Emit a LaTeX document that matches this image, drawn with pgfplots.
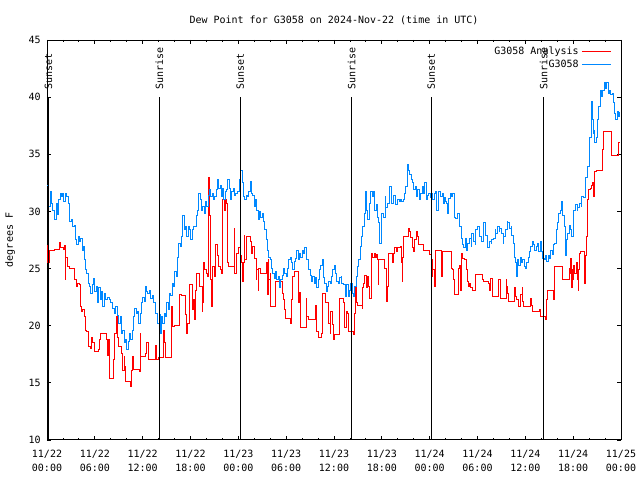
\documentclass[border=0pt]{standalone}
\usepackage{fontspec}
\setmainfont{DejaVu Sans Mono}
\usepackage{pgfplots}
\pgfplotsset{compat=1.18}
\definecolor{gred}{RGB}{255,0,0}
\definecolor{gblue}{RGB}{0,136,255}
\begin{document}
\fontsize{7.2}{8.6}\selectfont
\begin{tikzpicture}
\begin{axis}[
  scale only axis, width=413.3pt, height=288pt,
  xmin=0, xmax=72, ymin=10, ymax=45,
  xtick={0,6,...,72},
  xticklabels={{11/22\\[1.5pt]00:00},{11/22\\[1.5pt]06:00},{11/22\\[1.5pt]12:00},{11/22\\[1.5pt]18:00},{11/23\\[1.5pt]00:00},{11/23\\[1.5pt]06:00},{11/23\\[1.5pt]12:00},{11/23\\[1.5pt]18:00},{11/24\\[1.5pt]00:00},{11/24\\[1.5pt]06:00},{11/24\\[1.5pt]12:00},{11/24\\[1.5pt]18:00},{11/25\\[1.5pt]00:00}},
  minor x tick num=2,
  ytick={10,15,...,45},
  tick align=inside,
  major tick length=3pt, minor tick length=1.6pt,
  tick style={black, line width=0.6pt},
  axis line style={black, line width=0.7pt},
  /pgf/number format/assume math mode=true,
  every tick label/.append style={font=\fontsize{7.2}{8.6}\selectfont},
  xticklabel style={align=center, yshift=-4.5pt},
  yticklabel style={xshift=-2pt},
  title={Dew Point for G3058 on 2024-Nov-22 (time in UTC)},
  title style={at={(axis description cs:0.5,1)}, anchor=base, yshift=6.2pt, font=\fontsize{7.2}{8.6}\selectfont},
  ylabel={degrees F},
  ylabel style={at={(axis description cs:-0.064,0.5)}, anchor=center, font=\fontsize{7.2}{8.6}\selectfont},
  legend style={draw=none, fill=none, at={(rel axis cs:0.984,0.99)}, anchor=north east, inner sep=0pt, row sep=-1.5pt, font=\fontsize{7.2}{8.6}\selectfont},
  legend cell align=right,
  legend plot pos=right,
  legend image code/.code={\draw[#1] plot coordinates {(0pt,0pt) (21pt,0pt)};},
  clip mode=individual,
]
\addplot[gred, line width=0.7pt, const plot] coordinates {
(0.0,27.0) (0.1,25.5) (0.3,26.6) (0.95,26.7) (1.55,27.3) (1.72,26.8) (2.05,26.7) (2.2,27.0) (2.3,24.0) (2.38,26.0)
(2.55,25.2) (2.76,25.0) (3.47,24.0) (3.64,23.4) (3.8,23.7) (4.06,23.6) (4.14,21.7) (4.31,21.2) (4.48,21.4) (4.64,20.8)
(4.81,19.6) (4.98,19.5) (5.15,18.2) (5.4,18.0) (5.56,19.0) (5.73,18.5) (5.9,17.7) (6.4,17.9) (6.53,18.8) (6.74,19.3)
(7.5,18.8) (7.57,17.4) (7.74,18.8) (7.9,15.4) (8.4,17.0) (8.5,19.3) (8.66,20.8) (8.83,19.0) (9.0,18.2) (9.33,17.6)
(9.5,16.1) (9.67,17.3) (9.75,16.4) (9.87,15.1) (10.5,14.7) (10.58,16.1) (10.75,17.3) (10.84,16.2) (11.6,16.0) (11.67,19.3)
(11.76,17.3) (12.4,17.6) (12.5,18.5) (12.67,17.0) (13.63,18.3) (13.76,17.0) (13.93,17.2) (14.6,19.6) (14.76,18.5) (14.85,17.2)
(15.64,21.7) (15.77,19.9) (15.94,20.0) (16.6,22.7) (16.86,22.6) (17.4,21.0) (17.53,19.3) (17.61,20.2) (17.86,23.6) (18.2,22.8)
(18.28,21.4) (18.36,22.3) (18.53,20.5) (18.66,23.1) (18.78,24.6) (19.16,23.4) (19.45,21.2) (19.53,22.0) (19.62,25.5) (19.78,24.9)
(19.95,24.6) (20.12,24.3) (20.29,33.0) (20.37,29.6) (20.45,25.2) (20.54,24.0) (20.62,21.7) (20.79,25.2) (20.96,24.3) (21.12,27.1)
(21.37,26.1) (21.54,25.2) (21.71,24.9) (21.88,24.6) (22.04,31.0) (22.21,30.1) (22.38,31.0) (22.55,30.7) (22.63,25.5) (22.8,25.2)
(23.47,28.5) (23.55,24.6) (23.72,26.3) (24.05,26.8) (24.22,26.1) (24.39,25.5) (24.55,23.9) (24.64,25.5) (24.72,27.9) (24.8,25.8)
(24.97,27.8) (25.56,27.4) (25.64,26.3) (25.81,26.9) (26.06,25.9) (26.23,24.0) (26.31,24.9) (26.48,23.1) (26.56,25.0) (26.73,24.6)
(27.57,25.5) (27.65,22.7) (27.73,25.8) (27.82,24.0) (27.98,24.6) (28.07,21.7) (28.65,23.9) (29.57,22.8) (29.66,22.3) (29.82,21.4)
(29.91,20.6) (30.58,20.2) (30.7,22.3) (30.83,24.3) (31.0,24.7) (31.5,23.0) (31.58,22.0) (31.67,22.9) (31.83,19.8) (32.5,22.4)
(32.59,20.8) (32.75,20.5) (33.67,21.8) (33.76,20.8) (33.84,19.5) (34.0,19.0) (34.43,19.3) (34.6,22.8) (34.93,22.0) (35.26,21.1)
(35.35,20.2) (35.51,19.3) (35.6,21.2) (35.77,20.1) (35.93,18.8) (36.02,19.2) (36.69,22.4) (37.19,22.0) (37.27,21.4) (37.36,19.8)
(37.52,21.2) (37.68,21.1) (37.85,19.5) (38.43,19.2) (38.52,21.1) (38.68,23.4) (38.77,22.0) (38.93,21.8) (39.52,21.5) (39.6,23.3)
(39.69,23.7) (39.85,24.4) (40.02,23.3) (40.19,24.3) (40.36,23.4) (40.44,22.4) (40.69,26.3) (40.86,26.0) (41.03,26.3) (41.19,26.0)
(41.36,26.2) (41.44,25.8) (41.53,23.6) (41.61,25.8) (42.28,25.0) (42.62,22.1) (42.7,23.4) (42.78,26.3) (43.29,25.5) (43.45,26.3)
(43.62,26.8) (43.79,26.5) (43.95,26.8) (44.29,26.9) (44.46,25.5) (44.54,23.9) (44.62,26.0) (44.71,27.8) (45.29,28.5) (45.46,28.2)
(45.63,27.7) (45.8,26.8) (45.96,26.5) (46.13,27.5) (46.3,28.2) (46.46,27.8) (46.63,27.1) (47.22,26.6) (47.97,26.2) (48.22,24.3)
(48.3,25.8) (48.39,24.9) (48.56,23.4) (48.72,26.6) (49.48,24.3) (49.56,26.5) (50.73,25.0) (50.9,24.9) (50.98,24.0) (51.15,22.7)
(51.57,24.0) (51.65,25.0) (51.73,25.3) (51.82,23.1) (51.99,26.3) (52.15,25.9) (52.32,25.75) (52.57,24.9) (52.74,23.9) (52.82,23.4)
(52.99,23.7) (53.16,23.3) (53.32,23.1) (53.74,24.5) (54.58,24.0) (54.75,23.85) (55.42,23.7) (55.5,23.1) (55.58,24.15) (55.83,22.55)
(56.59,24.0) (56.84,23.4) (56.92,22.4) (57.59,24.0) (57.68,23.4) (57.76,22.8) (57.84,22.1) (58.68,23.3) (58.76,22.55) (58.85,22.3)
(59.18,21.7) (59.35,22.7) (59.6,23.3) (59.68,22.1) (59.77,21.7) (60.69,22.4) (60.77,21.8) (60.86,21.2) (61.78,21.4) (61.94,20.8)
(62.53,20.5) (62.7,22.3) (62.78,23.1) (63.53,22.3) (63.62,24.3) (63.7,25.2) (64.7,24.0) (65.54,25.0) (65.63,24.6) (65.71,25.9)
(65.79,23.3) (65.88,24.9) (65.96,24.0) (66.04,25.3) (66.21,24.6) (66.38,25.5) (66.55,24.0) (66.63,23.1) (66.71,24.9) (66.8,26.3)
(66.96,26.5) (67.47,23.7) (67.55,26.1) (67.72,27.8) (67.8,31.0) (67.97,31.9) (68.14,32.0) (68.3,32.3) (68.47,32.5) (68.55,31.3)
(68.72,33.5) (68.89,33.6) (69.73,35.4) (69.81,37.0) (70.81,34.9) (71.65,35.4) (71.73,36.0) (71.8,36.0)
};
\addlegendentry{G3058 Analysis}
\addplot[gblue, line width=0.7pt, const plot] coordinates {
(0.0,32.3) (0.17,30.4) (0.38,31.7) (0.54,30.7) (0.75,30.1) (0.96,29.3) (1.13,30.7) (1.3,29.7) (1.46,31.0) (1.63,31.6)
(1.8,31.3) (1.97,31.6) (2.13,30.9) (2.3,31.6) (2.47,31.3) (2.64,30.7) (2.8,29.1) (3.05,29.3) (3.2,28.7) (3.39,28.8)
(3.56,27.5) (3.72,27.1) (3.89,27.8) (4.06,27.4) (4.23,27.6) (4.39,26.6) (4.56,26.9) (4.64,25.8) (4.81,24.9) (4.98,24.6)
(5.15,23.7) (5.31,23.4) (5.48,22.8) (5.65,23.6) (5.82,24.1) (5.98,23.0) (6.15,23.4) (6.32,22.0) (6.49,23.3) (6.65,22.3)
(6.82,23.0) (6.99,21.7) (7.15,22.8) (7.36,22.3) (7.57,22.5) (7.78,22.3) (7.99,22.0) (8.2,21.5) (8.41,21.1) (8.62,21.7)
(8.83,20.9) (9.0,20.2) (9.16,20.8) (9.33,19.3) (9.5,19.6) (9.67,18.5) (9.83,18.8) (10.0,17.9) (10.17,18.6) (10.33,19.3)
(10.5,18.8) (10.67,19.6) (10.84,20.8) (11.0,21.5) (11.17,21.1) (11.34,21.2) (11.51,20.2) (11.67,21.1) (11.84,22.0) (12.0,22.5)
(12.18,22.1) (12.34,23.4) (12.5,23.0) (12.59,22.8) (12.8,23.1) (13.0,22.4) (13.2,22.6) (13.4,22.0) (13.6,21.1) (13.8,20.2)
(14.05,21.0) (14.2,19.3) (14.35,20.8) (14.5,20.2) (14.7,21.1) (14.85,20.8) (15.0,22.0) (15.2,21.4) (15.35,22.8) (15.5,22.6)
(15.7,23.7) (15.85,23.4) (16.0,24.7) (16.2,24.3) (16.35,26.0) (16.5,27.2) (16.7,26.9) (16.85,27.8) (17.0,29.6) (17.2,28.4)
(17.4,28.7) (17.5,27.8) (17.7,28.7) (17.9,28.4) (18.0,27.5) (18.2,28.4) (18.4,28.7) (18.7,29.6) (18.9,30.1) (19.0,31.6)
(19.2,31.0) (19.4,30.1) (19.5,30.4) (19.7,29.8) (19.9,30.9) (20.0,30.4) (20.2,31.4) (20.4,31.9) (20.5,31.3) (20.7,31.6)
(20.9,31.0) (21.0,31.3) (21.2,31.9) (21.4,32.8) (21.5,32.0) (21.7,32.3) (21.9,31.3) (22.0,32.0) (22.2,31.0) (22.4,31.7)
(22.5,31.9) (22.7,32.8) (22.9,32.0) (23.0,31.0) (23.2,31.7) (23.4,32.0) (23.55,31.4) (23.7,31.6) (23.9,31.7) (24.1,32.8)
(24.3,33.6) (24.5,32.5) (24.6,31.3) (24.8,31.0) (25.0,31.4) (25.1,31.3) (25.3,31.7) (25.5,32.6) (25.6,31.6) (25.8,31.4)
(26.0,30.4) (26.1,31.0) (26.3,30.1) (26.5,29.3) (26.6,30.0) (26.8,29.5) (27.0,29.8) (27.1,29.1) (27.3,28.4) (27.5,27.5)
(27.7,26.6) (27.8,26.0) (28.0,25.8) (28.2,25.0) (28.3,24.6) (28.5,24.1) (28.7,24.7) (28.8,24.0) (29.0,24.3) (29.2,23.3)
(29.3,24.0) (29.5,24.4) (29.7,25.0) (29.8,24.6) (30.0,24.3) (30.2,25.0) (30.3,25.8) (30.5,26.0) (30.7,25.5) (30.8,24.9)
(31.0,25.6) (31.2,25.9) (31.3,26.6) (31.5,25.8) (31.7,26.3) (31.8,26.0) (32.0,26.6) (32.2,26.3) (32.3,26.8) (32.5,25.8)
(32.7,25.8) (32.8,24.9) (33.0,24.4) (33.2,23.9) (33.3,24.3) (33.5,23.7) (33.7,24.2) (33.8,23.3) (34.0,24.0) (34.2,24.9)
(34.3,25.3) (34.5,25.8) (34.7,24.2) (34.8,23.7) (35.0,23.0) (35.2,23.4) (35.3,23.9) (35.5,23.7) (35.7,24.3) (35.8,24.9)
(36.0,25.3) (36.2,24.6) (36.3,23.9) (36.5,23.7) (36.7,24.2) (36.9,24.3) (37.0,23.7) (37.2,23.6) (37.4,22.55) (37.6,23.6)
(37.8,22.55) (37.9,23.1) (38.1,23.7) (38.3,22.8) (38.4,22.55) (38.6,23.4) (38.8,24.3) (38.9,25.2) (39.1,25.8) (39.3,26.9)
(39.4,27.8) (39.6,28.7) (39.8,29.8) (40.0,31.7) (40.05,30.1) (40.2,29.3) (40.4,30.1) (40.5,30.7) (40.6,31.7) (40.8,31.3)
(41.0,31.7) (41.1,30.1) (41.3,30.6) (41.4,29.5) (41.6,29.0) (41.7,27.2) (41.9,28.1) (42.0,29.8) (42.2,29.5) (42.4,31.3)
(42.5,30.3) (42.7,30.7) (42.9,31.2) (43.0,32.2) (43.2,30.7) (43.4,31.0) (43.5,31.4) (43.7,30.6) (43.9,31.0) (44.2,30.9)
(44.4,31.0) (44.5,30.9) (44.7,31.0) (44.9,31.6) (45.0,32.2) (45.2,34.1) (45.4,33.6) (45.5,33.2) (45.7,32.8) (45.9,32.5)
(46.0,31.9) (46.2,32.2) (46.4,31.3) (46.5,31.9) (46.7,31.0) (46.9,31.6) (47.1,32.2) (47.2,31.6) (47.4,32.5) (47.6,31.0)
(47.7,31.4) (47.9,31.6) (48.1,31.2) (48.2,31.6) (48.4,31.0) (48.6,31.6) (48.7,31.7) (48.9,30.1) (49.1,31.7) (49.4,31.3)
(49.6,31.6) (49.7,30.7) (49.9,31.2) (50.0,30.9) (50.1,30.7) (50.2,29.8) (50.4,31.1) (50.6,31.6) (50.7,31.3) (50.9,31.6)
(51.05,30.7) (51.15,29.5) (51.3,29.4) (51.5,29.8) (51.7,29.1) (51.8,28.7) (52.0,27.65) (52.1,27.1) (52.3,26.8) (52.5,27.65)
(52.65,26.6) (52.8,27.2) (53.0,27.65) (53.2,26.9) (53.3,28.1) (53.5,27.4) (53.7,27.1) (53.8,28.4) (54.0,28.7) (54.2,28.1)
(54.3,27.8) (54.5,27.4) (54.7,28.4) (54.8,29.0) (55.0,27.9) (55.2,27.2) (55.3,26.8) (55.5,27.4) (55.7,27.2) (55.8,27.5)
(56.0,27.65) (56.2,28.4) (56.3,28.1) (56.5,28.7) (56.7,28.2) (56.8,28.5) (57.0,28.1) (57.2,27.2) (57.3,27.8) (57.5,28.4)
(57.7,29.1) (57.8,29.0) (58.0,28.5) (58.2,28.7) (58.3,27.9) (58.5,27.2) (58.7,26.0) (58.8,25.5) (58.9,24.3) (59.0,25.75)
(59.2,25.3) (59.4,26.0) (59.5,25.5) (59.7,25.75) (59.85,25.2) (60.0,25.0) (60.2,25.5) (60.4,26.0) (60.5,26.5) (60.7,26.9)
(60.9,27.4) (61.0,27.1) (61.2,26.6) (61.4,26.9) (61.5,27.2) (61.7,26.5) (61.86,27.4) (62.0,26.5) (62.2,25.9) (62.36,25.8)
(62.5,26.1) (62.7,25.6) (62.9,26.1) (63.0,25.9) (63.2,26.6) (63.4,26.2) (63.5,27.1) (63.7,27.2) (63.9,28.4) (64.0,29.0)
(64.2,29.8) (64.4,30.1) (64.5,30.9) (64.7,29.6) (64.9,28.7) (65.0,26.1) (65.1,27.5) (65.3,28.1) (65.5,28.8) (65.6,28.4)
(65.8,27.8) (66.0,28.7) (66.1,30.1) (66.3,30.6) (66.5,30.1) (66.6,30.3) (66.8,30.7) (67.0,30.4) (67.1,31.3) (67.3,31.2)
(67.5,32.8) (67.6,33.0) (67.8,33.9) (68.0,35.4) (68.1,36.5) (68.3,39.6) (68.4,38.0) (68.5,36.8) (68.6,37.1) (68.7,36.0)
(68.9,36.5) (69.1,38.0) (69.2,39.2) (69.4,40.6) (69.6,40.1) (69.7,40.6) (69.9,41.3) (70.1,40.8) (70.2,41.3) (70.4,40.3)
(70.6,40.6) (70.7,40.2) (70.9,40.3) (71.1,39.5) (71.2,38.6) (71.3,38.0) (71.5,38.7) (71.65,38.3) (71.8,38.7)
};
\addlegendentry{G3058}
\addplot[black, line width=0.7pt, forget plot] coordinates {(0.2,10) (0.2,40)};
\addplot[black, line width=0.7pt, forget plot] coordinates {(14.1,10) (14.1,40)};
\addplot[black, line width=0.7pt, forget plot] coordinates {(24.25,10) (24.25,40)};
\addplot[black, line width=0.7pt, forget plot] coordinates {(38.2,10) (38.2,40)};
\addplot[black, line width=0.7pt, forget plot] coordinates {(48.2,10) (48.2,40)};
\addplot[black, line width=0.7pt, forget plot] coordinates {(62.3,10) (62.3,40)};
\node[rotate=90, anchor=west, inner sep=0pt, xshift=1pt, font=\fontsize{7.2}{8.6}\selectfont] at (axis cs:0.2,40.5) {Sunset};
\node[rotate=90, anchor=west, inner sep=0pt, xshift=1pt, font=\fontsize{7.2}{8.6}\selectfont] at (axis cs:14.1,40.5) {Sunrise};
\node[rotate=90, anchor=west, inner sep=0pt, xshift=1pt, font=\fontsize{7.2}{8.6}\selectfont] at (axis cs:24.25,40.5) {Sunset};
\node[rotate=90, anchor=west, inner sep=0pt, xshift=1pt, font=\fontsize{7.2}{8.6}\selectfont] at (axis cs:38.2,40.5) {Sunrise};
\node[rotate=90, anchor=west, inner sep=0pt, xshift=1pt, font=\fontsize{7.2}{8.6}\selectfont] at (axis cs:48.2,40.5) {Sunset};
\node[rotate=90, anchor=west, inner sep=0pt, xshift=1pt, font=\fontsize{7.2}{8.6}\selectfont] at (axis cs:62.3,40.5) {Sunrise};
\end{axis}
\path ([xshift=-33.84pt,yshift=-28.8pt]current axis.south west) rectangle ([xshift=13.68pt,yshift=28.8pt]current axis.north east);
\end{tikzpicture}
\end{document}
